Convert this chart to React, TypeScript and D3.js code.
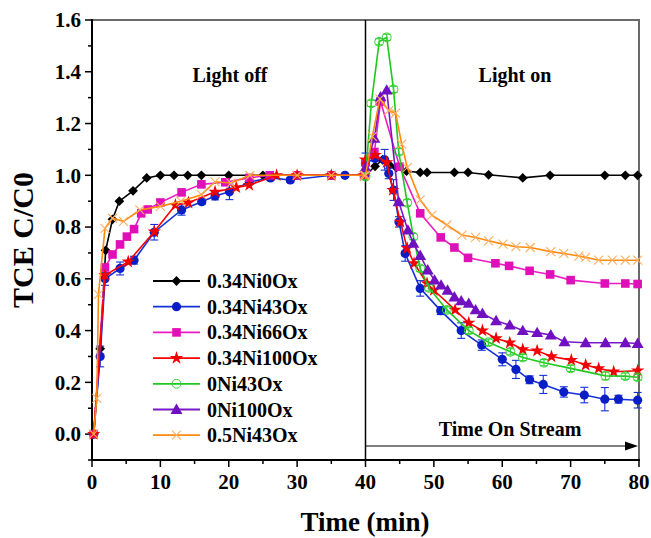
import React from "react";
import * as d3 from "d3";

// ---------- data ----------
const seriesNames = ["0.34Ni0Ox", "0.34Ni43Ox", "0.34Ni66Ox", "0.34Ni100Ox", "0Ni43Ox", "0Ni100Ox", "0.5Ni43Ox"];

const blackT = [0.25, 1.2, 2, 3, 4, 6, 8, 10, 12, 14, 16, 20, 25, 39.8, 40, 41.4, 42.5, 43.5, 44.5, 46, 48, 49, 53, 55, 58, 63, 67, 75, 78, 79.8];
const blackV = [0, 0.33, 0.71, 0.83, 0.9, 0.94, 0.99, 1.0, 1.0, 1.0, 1.0, 1.0, 1.0, 1.0, 1.0, 1.035, 1.06, 1.04, 1.03, 1.016, 1.011, 1.011, 1.011, 1.011, 1.002, 0.99, 1.0, 1.0, 1.0, 1.0];

const blueT = [0.25, 1.2, 1.9, 4.1, 6.15, 9.1, 13.1, 16.05, 18, 20.1, 23, 26.1, 29, 35, 37, 39.8, 40, 41.4, 42.8, 43.4, 44.1, 44.9, 45.8, 48, 51, 54, 57, 60, 62, 64, 66, 69, 72, 75, 77, 79.8];
const blueV = [0, 0.3, 0.6, 0.64, 0.672, 0.78, 0.866, 0.898, 0.92, 0.936, 0.974, 0.99, 0.982, 1.0, 1.0, 1.0, 1.046, 1.065, 1.06, 1.007, 0.943, 0.82, 0.698, 0.563, 0.477, 0.4, 0.344, 0.289, 0.25, 0.21, 0.192, 0.163, 0.151, 0.135, 0.135, 0.131];
const blueErr = [0, 0.04, 0.025, 0.025, 0.015, 0.03, 0.02, 0.01, 0.015, 0.03, 0.01, 0.01, 0.01, 0.005, 0.005, 0.005, 0.04, 0.01, 0.04, 0.02, 0.04, 0.02, 0.03, 0.03, 0.015, 0.03, 0.02, 0.025, 0.035, 0.015, 0.035, 0.02, 0.03, 0.045, 0.015, 0.03];

const pinkT = [0.25, 1.9, 3, 4.1, 5.1, 6.15, 7.2, 8.15, 10, 13.1, 16, 19.5, 23, 26, 30, 35, 39.8, 40, 41.3, 42.2, 45, 48, 51, 53, 55, 59, 61, 64, 67, 70, 75, 78, 79.8];
const pinkV = [0, 0.644, 0.694, 0.733, 0.763, 0.792, 0.853, 0.868, 0.895, 0.934, 0.965, 0.973, 0.99, 1.0, 1.0, 1.0, 1.0, 1.05, 1.09, 1.285, 1.033, 0.853, 0.76, 0.721, 0.681, 0.66, 0.65, 0.631, 0.617, 0.595, 0.582, 0.582, 0.58];

const redT = [0.25, 1.9, 5.3, 9.1, 12.2, 14.1, 18, 21.1, 23, 27, 30, 35, 39.8, 40, 41.4, 43.1, 44, 45.1, 46.1, 47.1, 49, 50, 53.1, 55.1, 57.1, 59.1, 61.1, 63, 65.1, 67.2, 70.1, 72.2, 74.1, 76.3, 79.8];
const redV = [0, 0.614, 0.666, 0.782, 0.885, 0.894, 0.936, 0.953, 0.962, 1.0, 1.0, 1.0, 1.0, 1.06, 1.078, 1.05, 0.943, 0.82, 0.718, 0.66, 0.582, 0.556, 0.48, 0.43, 0.4, 0.37, 0.353, 0.327, 0.322, 0.3, 0.286, 0.267, 0.254, 0.241, 0.245];

const greenT = [40, 40.85, 42, 43.1, 44.1, 44.85, 46.1, 47, 48, 49.3, 51.9, 55.1, 58, 61.2, 63, 66.1, 70, 75.1, 78, 79.8];
const greenV = [0.995, 1.278, 1.516, 1.533, 1.332, 1.091, 0.894, 0.763, 0.64, 0.565, 0.48, 0.4, 0.355, 0.318, 0.296, 0.276, 0.254, 0.225, 0.224, 0.22];
const greenErr = [0.012, 0.012, 0.012, 0.012, 0.012, 0.012, 0.012, 0.012, 0.012, 0.012, 0.012, 0.012, 0.012, 0.012, 0.012, 0.012, 0.012, 0.015, 0.012, 0.012];

const purpleT = [40, 41.3, 42.2, 43.1, 44.85, 46.2, 47, 48, 49.1, 50.1, 51.05, 52, 53, 54, 55.1, 56.1, 57.1, 59.1, 61.1, 63, 65.1, 67.1, 69.1, 72.2, 75.1, 78, 79.8];
const purpleV = [1.03, 1.143, 1.303, 1.329, 0.898, 0.788, 0.737, 0.69, 0.634, 0.595, 0.576, 0.556, 0.53, 0.515, 0.505, 0.48, 0.466, 0.438, 0.421, 0.4, 0.392, 0.383, 0.357, 0.353, 0.353, 0.353, 0.35];

const orangeT = [0.25, 0.7, 0.95, 1.9, 3, 4.6, 7, 10, 13, 16, 18, 20.3, 23.1, 30, 35, 39.8, 40, 41, 42.1, 43.4, 44.4, 45.3, 46.1, 48, 49.7, 51.9, 54.1, 56.1, 58, 60.1, 62, 64.1, 67.1, 69, 71.2, 72.2, 74.1, 76.1, 78, 79.8];
const orangeV = [0, 0.138, 0.54, 0.795, 0.834, 0.822, 0.866, 0.88, 0.9, 0.925, 0.975, 0.97, 1.0, 1.0, 1.0, 1.0, 1.0, 1.15, 1.295, 1.25, 1.24, 1.12, 1.03, 0.905, 0.846, 0.808, 0.769, 0.76, 0.747, 0.734, 0.724, 0.721, 0.705, 0.698, 0.688, 0.683, 0.672, 0.672, 0.672, 0.672];

const xTicks = [0, 10, 20, 30, 40, 50, 60, 70, 80];
const yTicks = [0.0, 0.2, 0.4, 0.6, 0.8, 1.0, 1.2, 1.4, 1.6];

// ---------- style ----------
const W = 651, H = 538;
const L = 92, R = 639, T = 20, B = 460;
const FONT = "'Liberation Serif', 'Times New Roman', serif";

type Shape = "diamond" | "circle" | "square" | "star" | "ocircle" | "triangle" | "x";
interface S { name: string; t: number[]; v: number[]; err?: number[]; color: string; mcolor: string; shape: Shape; }

const series: S[] = [
  { name: seriesNames[0], t: blackT, v: blackV, color: "#000000", mcolor: "#000000", shape: "diamond" },
  { name: seriesNames[1], t: blueT, v: blueV, err: blueErr, color: "#1530d8", mcolor: "#0a1ec8", shape: "circle" },
  { name: seriesNames[2], t: pinkT, v: pinkV, color: "#ec1cc4", mcolor: "#e010b8", shape: "square" },
  { name: seriesNames[3], t: redT, v: redV, color: "#ff0000", mcolor: "#f00000", shape: "star" },
  { name: seriesNames[4], t: greenT, v: greenV, err: greenErr, color: "#1ec81e", mcolor: "#30d030", shape: "ocircle" },
  { name: seriesNames[5], t: purpleT, v: purpleV, color: "#7a18c8", mcolor: "#7010c0", shape: "triangle" },
  { name: seriesNames[6], t: orangeT, v: orangeV, color: "#ff8a10", mcolor: "#ffae60", shape: "x" },
];

function Marker({ shape, cx, cy, c }: { shape: Shape; cx: number; cy: number; c: string }) {
  switch (shape) {
    case "diamond":
      return <path transform={`translate(${cx},${cy}) rotate(45)`} d={d3.symbol(d3.symbolSquare, 48)()!} fill={c} />;
    case "circle":
      return <circle cx={cx} cy={cy} r={4.6} fill={c} />;
    case "square":
      return <rect x={cx - 4.3} y={cy - 4.3} width={8.6} height={8.6} fill={c} />;
    case "star":
      return <path transform={`translate(${cx},${cy})`} d={d3.symbol(d3.symbolStar, 55)()!} fill={c} />;
    case "ocircle":
      return <circle cx={cx} cy={cy} r={4.4} fill="none" stroke={c} strokeWidth={1} />;
    case "triangle":
      return <path transform={`translate(${cx},${cy + 1})`} d={d3.symbol(d3.symbolTriangle, 62)()!} fill={c} />;
    case "x":
      return <path d={`M${cx - 4.5},${cy - 4.5}L${cx + 4.5},${cy + 4.5}M${cx - 4.5},${cy + 4.5}L${cx + 4.5},${cy - 4.5}`} stroke={c} strokeWidth={1.1} fill="none" />;
  }
}

export default function App() {
  const x = d3.scaleLinear().domain([0, 80]).range([L, R]);
  const y = d3.scaleLinear().domain([-0.1, 1.6]).range([B, T]);
  const line = d3.line<[number, number]>().x((d) => x(d[0])).y((d) => y(d[1]));
  const xMinor = d3.range(5, 80, 10);
  const yMinor = d3.range(-0.1, 1.6, 0.2);

  const legY0 = 281, legDY = 25.7;

  return (
    <div style={{ position: "absolute", left: 0, top: 0 }}>
      <svg width={W} height={H} style={{ display: "block", background: "#fff" }} fontFamily={FONT}>
        {/* frame */}
        <rect x={L} y={T} width={R - L} height={B - T} fill="none" stroke="#6a6a6a" strokeWidth={2} />
        <line x1={L} y1={T - 1} x2={L} y2={B + 1} stroke="#000" strokeWidth={2} />
        <line x1={L - 1} y1={B} x2={R + 1} y2={B} stroke="#000" strokeWidth={2} />
        <line x1={x(40)} y1={T} x2={x(40)} y2={B} stroke="#000" strokeWidth={1.5} />

        {/* y ticks */}
        {yTicks.map((t) => (
          <g key={"y" + t}>
            <line x1={L - 7} x2={L} y1={y(t)} y2={y(t)} stroke="#000" strokeWidth={1.5} />
            <text x={L - 11} y={y(t)} dy="0.35em" textAnchor="end" fontSize={21} fontWeight="bold">{t.toFixed(1)}</text>
          </g>
        ))}
        {yMinor.map((t) => (
          <line key={"ym" + t} x1={L - 4} x2={L} y1={y(t)} y2={y(t)} stroke="#000" strokeWidth={1.5} />
        ))}
        {/* x ticks */}
        {xTicks.map((t) => (
          <g key={"x" + t}>
            <line x1={x(t)} x2={x(t)} y1={B} y2={B + 7} stroke="#000" strokeWidth={1.5} />
            <text x={x(t)} y={B + 29} textAnchor="middle" fontSize={21} fontWeight="bold">{t}</text>
          </g>
        ))}
        {xMinor.map((t) => (
          <line key={"xm" + t} x1={x(t)} x2={x(t)} y1={B} y2={B + 4} stroke="#000" strokeWidth={1.5} />
        ))}

        {/* titles */}
        <text x={365} y={531} textAnchor="middle" fontSize={27} fontWeight="bold">Time (min)</text>
        <text transform="translate(33,240) rotate(-90)" textAnchor="middle" fontSize={30} fontWeight="bold">TCE C/C0</text>

        {/* annotations */}
        <text x={230} y={82} textAnchor="middle" fontSize={20} fontWeight="bold">Light off</text>
        <text x={515} y={82} textAnchor="middle" fontSize={20} fontWeight="bold">Light on</text>
        <text x={510} y={436} textAnchor="middle" fontSize={20} fontWeight="bold">Time On Stream</text>
        <line x1={x(40)} y1={446} x2={R - 10} y2={446} stroke="#000" strokeWidth={1.2} />
        <path d={`M${R - 1},446 L${R - 14},441.5 L${R - 14},450.5 Z`} fill="#000" />

        {/* series */}
        {series.map((s) => {
          const pts = s.t.map((t, i) => [t, s.v[i]] as [number, number]);
          return (
            <g key={s.name}>
              <path d={line(pts)!} fill="none" stroke={s.color} strokeWidth={1.6} />
              {s.err && pts.map((p, i) =>
                s.err![i] > 0 ? (
                  <g key={"e" + i} stroke={s.shape === "ocircle" ? s.mcolor : s.color} strokeWidth={1.1}>
                    <line x1={x(p[0])} x2={x(p[0])} y1={y(p[1] - s.err![i])} y2={y(p[1] + s.err![i])} />
                    <line x1={x(p[0]) - 4} x2={x(p[0]) + 4} y1={y(p[1] - s.err![i])} y2={y(p[1] - s.err![i])} />
                    <line x1={x(p[0]) - 4} x2={x(p[0]) + 4} y1={y(p[1] + s.err![i])} y2={y(p[1] + s.err![i])} />
                  </g>
                ) : null
              )}
              {pts.map((p, i) => (
                <Marker key={i} shape={s.shape} cx={x(p[0])} cy={y(p[1])} c={s.mcolor} />
              ))}
            </g>
          );
        })}

        {/* legend */}
        {series.map((s, i) => {
          const ly = legY0 + i * legDY;
          return (
            <g key={"leg" + s.name}>
              <line x1={153} x2={200} y1={ly} y2={ly} stroke={s.color} strokeWidth={1.8} />
              <Marker shape={s.shape} cx={176.5} cy={ly} c={s.mcolor} />
              <text x={207} y={ly} dy="0.35em" fontSize={20} fontWeight="bold">{s.name}</text>
            </g>
          );
        })}
      </svg>
    </div>
  );
}
